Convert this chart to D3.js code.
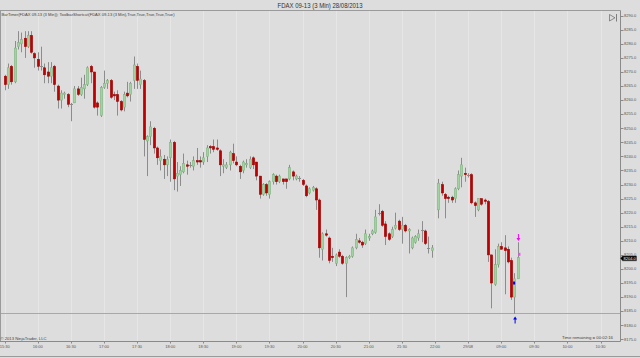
<!DOCTYPE html>
<html><head><meta charset="utf-8">
<script src="https://cdn.jsdelivr.net/npm/d3@7"></script>
<style>html,body{margin:0;padding:0;background:#dddddd;overflow:hidden;} svg{display:block;}</style>
</head><body><svg id="c" width="640" height="358"></svg>
<script>
// ---- data ----
const barIndex = [0,1,2,3,4,5,6,7,8,9,10,11,12,13,14,15,16,17,18,19,20,21,22,23,24,25,26,27,28,29,30,31,32,33,34,35,36,37,38,39,40,41,42,43,44,45,46,47,48,49,50,51,52,53,54,55,56,57,58,59,60,61,62,63,64,65,66,67,68,69,70,71,72,73,74,75,76,77,78,79,80,81,82,83,84,85,86,87,88,89,90,91,92,93,94,95,96,97,98,99,100,101,102,103,104,105,106,107,108,109,110,111,112,113,114,115,116,117,118,119,120,121,122,123,124,125,126,127,128,129,131,132,133,134,135,136,137,138,139,140,141,142,143,144,145,146,147,148,149,150,151,152,153,154,155];
const opens = [8268.5,8265.5,8272,8266.5,8279,8280,8282,8279,8283,8276.5,8274.5,8272,8271.5,8270,8268.5,8272,8265,8260,8262,8262,8258.5,8259,8264,8262,8264,8265.5,8272,8270,8259,8254.5,8264.5,8266,8267,8262,8262,8259.5,8257.5,8262.5,8262,8267,8272,8265.5,8267,8245.5,8247,8250,8243,8238.5,8239,8237,8239.5,8245,8233,8233.5,8234.5,8237,8237,8236.5,8238.5,8238.5,8238,8240,8243.5,8243.5,8243,8242,8236.5,8236,8237,8241,8238,8236.5,8235,8237,8236,8239.5,8238,8233,8226.5,8230,8226.5,8231,8233,8231,8232,8232,8232,8234.5,8232,8232.5,8231.5,8229.5,8227,8228,8228.5,8224.5,8207,8212.5,8211,8204.5,8202,8206,8204.5,8202,8204,8204.5,8207.5,8210,8209.5,8209,8211,8212.5,8213,8220,8220.5,8216,8212.5,8211.5,8214.5,8217,8214,8215.5,8213.5,8207.5,8209.5,8211,8214,8213.5,8207.5,8206.5,8221,8230,8226.5,8225.5,8225.5,8225,8228.5,8233,8234,8233.5,8233.5,8223.5,8221,8225,8224.5,8224,8205,8194.5,8201.5,8208,8207.5,8207,8203,8190,8196.5];
const highs = [8269,8273,8272.5,8281,8284.5,8284,8284.5,8284.5,8284.5,8277,8277,8279,8273,8273.5,8273.5,8272.5,8265.5,8263.5,8263,8262.5,8259,8265,8265,8268,8269,8272,8272.5,8270,8259.5,8265,8270.5,8267.5,8267.5,8263,8263.5,8260,8263,8266.5,8266.5,8275.5,8273,8270.5,8267.5,8247.5,8252.5,8250.5,8243.5,8242.5,8240.5,8240,8246,8245.5,8238,8236.5,8241,8238.5,8238,8240,8243,8240,8241.5,8244,8244,8246,8246,8242.5,8239,8238,8242,8244.5,8240,8237,8238.5,8239,8240,8240,8238,8233,8230.5,8230.5,8231.5,8234,8233.5,8233.5,8232,8232,8237,8235,8233.5,8233,8232,8230,8229,8229.5,8229,8225,8213,8214,8211.5,8207.5,8205.5,8207,8205,8204.5,8205,8208,8212.5,8211,8210,8214,8212.5,8214,8221,8223,8221,8217,8213,8215,8220,8217.5,8218.5,8216,8214.5,8211.5,8212,8214,8217,8214,8211.5,8208.5,8232,8231,8227,8226,8226,8229,8235,8239.5,8236,8234,8234,8224,8225,8225,8225,8224.5,8205,8207,8209,8209.5,8212,8208,8204,8198.5,8209.5];
const lows = [8263.5,8264,8265.5,8266,8278,8277,8275,8278.5,8276.5,8271.5,8270.5,8270.5,8266,8266,8266,8263,8257,8257,8260.5,8257.5,8252.5,8259,8261.5,8261.5,8260.5,8265,8266,8257,8254.5,8254,8264,8264,8260.5,8260,8254.5,8256,8256,8261,8259.5,8264,8264,8264,8240,8233,8244,8241,8237,8235,8232,8233,8231,8228,8227.5,8229.5,8234,8233.5,8236,8235,8237,8236,8237,8238,8241,8241.5,8242,8233,8234,8235.5,8235,8237.5,8236.5,8232,8234,8236,8235.5,8235.5,8231.5,8225,8226,8226,8225,8230,8230,8230.5,8230,8228.5,8231.5,8231.5,8231.5,8231,8229.5,8225.5,8226.5,8227.5,8221,8204,8203,8211.5,8202,8202.5,8201,8204,8201.5,8190,8203.5,8204,8207,8209,8207.5,8208.5,8210,8212,8212.5,8219,8215,8208.5,8210,8211,8214,8213.5,8209,8213,8205.5,8207,8209,8210,8209.5,8208.5,8205.5,8204,8218,8226,8218,8223.5,8223.5,8223.5,8228,8229,8231,8232.5,8223,8218.5,8220.5,8222.5,8223,8202.5,8186,8194,8200.5,8207,8191,8202,8189,8184,8196.5];
const closes = [8265.5,8271.5,8266.5,8278.5,8280.5,8281.5,8279,8283,8277,8275,8272,8272,8269,8268.5,8271.5,8265.5,8260,8262.5,8262.5,8258.5,8258.5,8264,8262,8264.5,8265.5,8271.5,8270,8257.5,8257.5,8264.5,8266,8267,8261,8261.5,8259.5,8256.5,8262,8261.5,8266,8272.5,8267,8267.5,8246,8247,8250.5,8243,8239.5,8240,8237,8239,8245,8232,8234,8235,8237.5,8236.5,8237,8238.5,8238,8238,8239.5,8243,8243,8242.5,8242.5,8237,8237,8237,8241.5,8238.5,8237,8234.5,8238,8237.5,8239,8237,8233,8226.5,8230,8227,8231,8233.5,8231,8233,8231,8231,8236,8233,8233,8232.5,8230,8226,8228.5,8229,8224.5,8207.5,8212.5,8212,8203,8204,8205,8204.5,8202,8204,8204.5,8207.5,8210.5,8209.5,8208.5,8212.5,8211.5,8213.5,8218.5,8220,8215.5,8211.5,8210.5,8214,8215.5,8214,8215.5,8213.5,8214,8211,8211.5,8212.5,8214,8209,8207.5,8207.5,8230.5,8227,8225,8225,8224.5,8228.5,8233.5,8237,8233.5,8233.5,8223.5,8222.5,8225,8223,8224,8205,8195,8201.5,8208,8207,8206.5,8202.5,8190,8196.5,8204];

const priceTicks = [8175,8180,8185,8190,8195,8200,8205,8210,8215,8220,8225,8230,8235,8240,8245,8250,8255,8260,8265,8270,8275,8280,8285,8290];
const timeTickIndex = [0,10,20,30,40,50,60,70,80,90,100,110,120,130,140,150,160,170,180];
const timeTickLabels = ["15:30","16:00","16:30","17:00","17:30","18:00","18:30","19:00","19:30","20:00","20:30","21:00","21:30","22:00","29/08","09:00","09:30","10:00","10:30"];
const lastPrice = 8204.0;
const lineLevel = 8184.5;
const markerKind = ["arrowDown","dot","dot","arrowUp"];
const markerBar = [155.2,155.5,153.9,154.2];
const markerPrice = [8211,8205.2,8195,8182];
const markerColor = ["#ff00ff","#ff44ff","#0000ee","#0000ee"];

const titleText = "FDAX 09-13 (3 Min)  28/08/2013";
const indicatorText = "BarTimer(FDAX 09-13 (3 Min)); ToolbarShortcut(FDAX 09-13 (3 Min),True,True,True,True,True)";

// ---- drawing ----
(function(){
const svg = d3.select("#c");
const FONT = "Liberation Sans, Arial, sans-serif";
const pL = 0.5, pR = 620.5, pT = 10.5, pB = 341.5;

const x = d3.scaleLinear().domain([0, 180]).range([4.7, 600.5]);
const y = d3.scaleLinear().domain([8175, 8290]).range([339.3, 15.7]);

svg.append("rect").attr("width",640).attr("height",358).attr("fill","#dddddd");

svg.append("defs").append("clipPath").attr("id","plot")
  .append("rect").attr("x",pL).attr("y",pT).attr("width",pR-pL).attr("height",pB-pT);

// vertical grid
svg.append("g").selectAll("line").data(timeTickIndex).join("line")
  .attr("x1", d=>Math.round(x(d))+0.5).attr("x2", d=>Math.round(x(d))+0.5)
  .attr("y1", pT).attr("y2", pB)
  .attr("stroke","#e6e6e6").attr("stroke-width",1);

// horizontal line
svg.append("line").attr("x1",pL).attr("x2",pR)
  .attr("y1",Math.round(y(lineLevel))+0.5).attr("y2",Math.round(y(lineLevel))+0.5)
  .attr("stroke","#a8a8a8").attr("stroke-width",1);

// frame
svg.append("line").attr("x1",0).attr("x2",pR).attr("y1",pT).attr("y2",pT).attr("stroke","#9a9a9a");
svg.append("line").attr("x1",pL).attr("x2",pL).attr("y1",pT).attr("y2",pB).attr("stroke","#9a9a9a");
svg.append("line").attr("x1",0).attr("x2",pR).attr("y1",pB).attr("y2",pB).attr("stroke","#8a8a8a");
svg.append("line").attr("x1",pR).attr("x2",pR).attr("y1",pT).attr("y2",pB).attr("stroke","#8a8a8a");
svg.append("line").attr("x1",0).attr("x2",640).attr("y1",356.5).attr("y2",356.5).attr("stroke","#9a9a9a");

// candles
const bars = barIndex.map((b,i)=>({b, o:opens[i], h:highs[i], l:lows[i], c:closes[i]}));
const g = svg.append("g").attr("clip-path","url(#plot)");
g.selectAll("line.wick").data(bars).join("line").attr("class","wick")
  .attr("x1", d=>Math.round(x(d.b))+0.5).attr("x2", d=>Math.round(x(d.b))+0.5)
  .attr("y1", d=>y(d.h)).attr("y2", d=>y(d.l))
  .attr("stroke","#8c8c8c").attr("stroke-width",1);
g.selectAll("rect.body").data(bars.filter(d=>d.o!==d.c)).join("rect").attr("class","body")
  .attr("x", d=>Math.round(x(d.b))-0.7)
  .attr("width", 2.4)
  .attr("y", d=>y(Math.max(d.o,d.c)))
  .attr("height", d=>Math.max(1, Math.abs(y(d.o)-y(d.c))))
  .attr("fill", d=> d.c>d.o ? "#9fd49f" : "#c00000")
  .attr("stroke", d=> d.c>d.o ? "#7fae7f" : "#9a0000")
  .attr("stroke-width",0.5);
g.selectAll("line.doji").data(bars.filter(d=>d.o===d.c)).join("line").attr("class","doji")
  .attr("x1", d=>Math.round(x(d.b))-1).attr("x2", d=>Math.round(x(d.b))+2)
  .attr("y1", d=>Math.round(y(d.c))+0.5).attr("y2", d=>Math.round(y(d.c))+0.5)
  .attr("stroke","#8c8c8c").attr("stroke-width",1);

// markers
const mk = markerKind.map((k,i)=>({k, b:markerBar[i], p:markerPrice[i], col:markerColor[i]}));
mk.forEach(m=>{
  const cx = x(m.b), cy = y(m.p);
  if (m.k==="arrowDown") {
    svg.append("path").attr("d",`M${cx-0.5},${cy-4} L${cx+0.5},${cy-4} L${cx+0.5},${cy} L${cx+2},${cy} L${cx},${cy+3} L${cx-2},${cy} L${cx-0.5},${cy} Z`).attr("fill",m.col);
  } else if (m.k==="arrowUp") {
    svg.append("path").attr("d",`M${cx-0.5},${cy+4} L${cx+0.5},${cy+4} L${cx+0.5},${cy} L${cx+2},${cy} L${cx},${cy-3} L${cx-2},${cy} L${cx-0.5},${cy} Z`).attr("fill",m.col);
  } else {
    svg.append("rect").attr("x",cx-1).attr("y",cy-1.5).attr("width",2).attr("height",3).attr("fill",m.col);
  }
});

// right axis
const yAxis = svg.append("g");
yAxis.selectAll("line").data(priceTicks).join("line")
  .attr("x1", pR).attr("x2", pR+3)
  .attr("y1", d=>Math.round(y(d))+0.5).attr("y2", d=>Math.round(y(d))+0.5)
  .attr("stroke","#8a8a8a");
yAxis.selectAll("text").data(priceTicks).join("text")
  .attr("x", pR+3.5).attr("y", d=>y(d)+1.3)
  .attr("font-family",FONT).attr("font-size",4.0).attr("fill","#555")
  .text(d=>d3.format(".1f")(d));

// last price label
const ly = y(lastPrice) + 0.6;
svg.append("path").attr("d",`M${pR},${ly} L${pR+2},${ly-2.3} L${pR+16},${ly-2.3} L${pR+16},${ly+2.5} L${pR+2},${ly+2.5} Z`)
  .attr("fill","#000").attr("stroke","#444").attr("stroke-width",0.5);
svg.append("text").attr("x", pR+3).attr("y", ly+1.5)
  .attr("font-family",FONT).attr("font-size",4.0).attr("fill","#fff")
  .text(d3.format(".1f")(lastPrice));

// bottom axis
const xAxis = svg.append("g");
xAxis.selectAll("line").data(timeTickIndex).join("line")
  .attr("x1", d=>Math.round(x(d))+0.5).attr("x2", d=>Math.round(x(d))+0.5)
  .attr("y1", pB).attr("y2", pB+2)
  .attr("stroke","#8a8a8a");
xAxis.selectAll("text").data(timeTickIndex).join("text")
  .attr("x", d=>x(d)).attr("y", 347.5).attr("text-anchor","middle")
  .attr("font-family",FONT).attr("font-size",4).attr("fill","#555")
  .text((d,i)=>timeTickLabels[i]);

// texts
svg.append("text").attr("x",320).attr("y",7.5).attr("text-anchor","middle")
  .attr("font-family",FONT).attr("font-size",6.3).attr("fill","#333")
  .attr("textLength",85).attr("lengthAdjust","spacingAndGlyphs").text(titleText);
svg.append("text").attr("x",1.5).attr("y",16.2)
  .attr("font-family",FONT).attr("font-size",3.9).attr("fill","#444")
  .attr("textLength",173).attr("lengthAdjust","spacingAndGlyphs").text(indicatorText);
svg.append("text").attr("x",0.5).attr("y",339.7)
  .attr("font-family",FONT).attr("font-size",4.1).attr("fill","#444")
  .attr("textLength",46).attr("lengthAdjust","spacingAndGlyphs").text("© 2013 NinjaTrader, LLC");
svg.append("text").attr("x",613).attr("y",339.3).attr("text-anchor","end")
  .attr("font-family",FONT).attr("font-size",4.3).attr("fill","#444")
  .text("Time remaining = 00:02:16");

// top-right icon
svg.append("path").attr("d","M609.5,14.5 L615,17.8 L609.5,21 Z").attr("fill","none").attr("stroke","#666").attr("stroke-width",0.7);
svg.append("line").attr("x1",616.5).attr("x2",616.5).attr("y1",14).attr("y2",21.5).attr("stroke","#666").attr("stroke-width",0.8);
})();
</script></body></html>
